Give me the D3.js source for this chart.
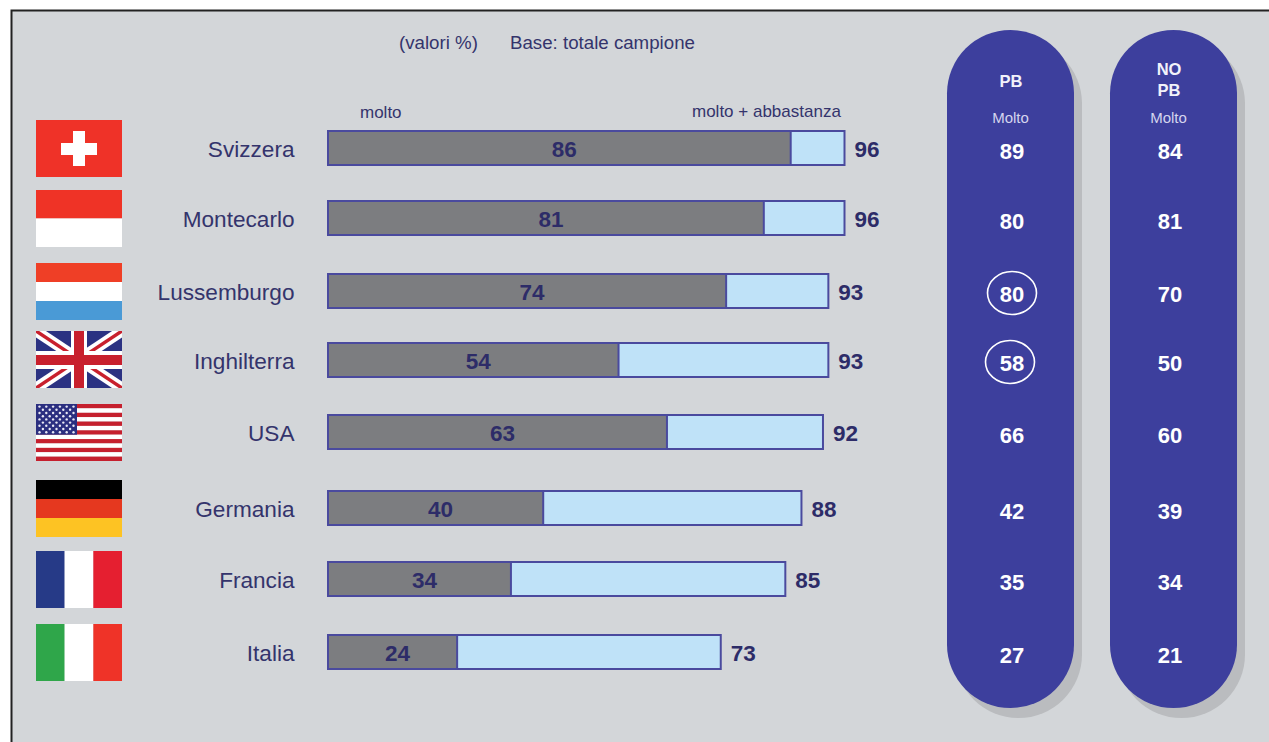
<!DOCTYPE html>
<html lang="it">
<head>
<meta charset="utf-8">
<title>Valori % per paese</title>
<script src="https://cdn.jsdelivr.net/npm/d3@7/dist/d3.min.js"></script>
<style>
html,body{margin:0;padding:0;background:#fff;overflow:hidden}
svg{display:block}
text{font-family:"Liberation Sans",Arial,sans-serif}
</style>
</head>
<body>
<svg id="chart" width="1269" height="742"></svg>
<script>
// Survey values, one entry per country, top to bottom
const countries = ["Svizzera","Montecarlo","Lussemburgo","Inghilterra","USA","Germania","Francia","Italia"];
const molto = [86,81,74,54,63,40,34,24];
const moltoAbbastanza = [96,96,93,93,92,88,85,73];
const pbMolto = [89,80,80,58,66,42,35,27];
const noPbMolto = [84,81,70,50,60,39,34,21];
const circledPb = ["Lussemburgo","Inghilterra"];

// Rows are hand spaced, so the band positions are listed rather than computed
const rowCentres = [148,218,291,360,432,508,579,652];
const flagTops = [120,190,263,331,404,480,551,624];

const INK = "#34346c", BAR_EDGE = "#4a4a9e", PILL = "#3d3f9d";
const svg = d3.select("#chart");

svg.append("rect").attr("width",1269).attr("height",742).attr("fill","#fff");
svg.append("rect").attr("x",11.5).attr("y",10.5).attr("width",1270).attr("height",745)
  .attr("fill","#d3d6d9").attr("stroke","#222").attr("stroke-width",2);

const x = d3.scaleLinear().domain([0,96]).range([328,844.5]);
const y = d3.scaleOrdinal().domain(countries).range(rowCentres);
const flagY = d3.scaleOrdinal().domain(countries).range(flagTops);
const BAR_H = 34, FLAG_X = 36, FLAG_W = 86, FLAG_H = 57;

// Keeps the diagonal strokes of the Union Jack inside the flag
svg.append("defs").append("clipPath").attr("id","flag-clip")
  .append("rect").attr("width",FLAG_W).attr("height",FLAG_H);

// Header texts
const header = (t,px,py,size,anchor="start") => svg.append("text").attr("x",px).attr("y",py)
  .attr("font-size",size).attr("fill",INK).attr("text-anchor",anchor).text(t);
header("(valori %)",399,49,18.7);
header("Base: totale campione",510,49,18.7);
header("molto",360,117.5,17);
header("molto + abbastanza",692,116.5,17);

// Bars: pale total behind, grey "molto" portion in front
const rows = svg.append("g").selectAll("g").data(countries).join("g");
rows.append("rect").attr("x",x(0)).attr("y",d=>y(d)-BAR_H/2)
  .attr("width",(d,i)=>x(moltoAbbastanza[i])-x(0)).attr("height",BAR_H)
  .attr("fill","#bfe2f8").attr("stroke",BAR_EDGE).attr("stroke-width",2);
rows.append("rect").attr("x",x(0)).attr("y",d=>y(d)-BAR_H/2)
  .attr("width",(d,i)=>x(molto[i])-x(0)).attr("height",BAR_H)
  .attr("fill","#7c7d80").attr("stroke",BAR_EDGE).attr("stroke-width",2);
rows.append("text").attr("x",(d,i)=>x(molto[i]/2)+5).attr("y",d=>y(d)+9)
  .attr("text-anchor","middle").attr("font-size",22.5).attr("font-weight","bold")
  .attr("fill","#2d2c68").text((d,i)=>molto[i]);
rows.append("text").attr("x",(d,i)=>x(moltoAbbastanza[i])+10).attr("y",d=>y(d)+9)
  .attr("font-size",22.5).attr("font-weight","bold").attr("fill","#2d2c68")
  .text((d,i)=>moltoAbbastanza[i]);
rows.append("text").attr("x",294.5).attr("y",d=>y(d)+9).attr("text-anchor","end")
  .attr("font-size",22.6).attr("fill",INK).text(d=>d);

// Flags
const stripes = (g,cols,dir) => cols.forEach((c,i)=>{
  const n = cols.length;
  g.append("rect")
    .attr("x",dir==="v"?FLAG_W*i/n:0).attr("y",dir==="h"?FLAG_H*i/n:0)
    .attr("width",dir==="v"?FLAG_W/n:FLAG_W).attr("height",dir==="h"?FLAG_H/n:FLAG_H)
    .attr("fill",c);
});
const flagPainters = {
  Svizzera(g){
    stripes(g,["#ef3228"],"h");
    g.append("rect").attr("x",25).attr("y",23).attr("width",36).attr("height",12).attr("fill","#fff");
    g.append("rect").attr("x",37).attr("y",11).attr("width",12).attr("height",35).attr("fill","#fff");
  },
  Montecarlo(g){ stripes(g,["#ef3326","#fff"],"h"); },
  Lussemburgo(g){ stripes(g,["#ef3f26","#fff","#4a9ad6"],"h"); },
  Inghilterra(g){
    stripes(g,["#2b3282"],"h");
    const diag = (w,c) => [[0,0,FLAG_W,FLAG_H],[FLAG_W,0,0,FLAG_H]].forEach(l =>
      g.append("line").attr("x1",l[0]).attr("y1",l[1]).attr("x2",l[2]).attr("y2",l[3])
        .attr("stroke",c).attr("stroke-width",w));
    diag(11,"#fff"); diag(3.5,"#c8202d");
    g.append("rect").attr("x",35).attr("width",16).attr("height",FLAG_H).attr("fill","#fff");
    g.append("rect").attr("y",20).attr("width",FLAG_W).attr("height",18).attr("fill","#fff");
    g.append("rect").attr("x",38).attr("width",10).attr("height",FLAG_H).attr("fill","#c8202d");
    g.append("rect").attr("y",24).attr("width",FLAG_W).attr("height",10).attr("fill","#c8202d");
  },
  USA(g){
    stripes(g,d3.range(13).map(i=>i%2?"#fff":"#c5202e"),"h");
    g.append("rect").attr("width",41).attr("height",30.7).attr("fill","#2b2f80");
    for(let r=0;r<9;r++){
      const n = r%2?5:6;
      for(let c=0;c<n;c++){
        g.append("circle").attr("cx",3.5+(r%2?3.4:0)+c*6.8).attr("cy",2.6+r*3.2)
          .attr("r",1.2).attr("fill","#e8e8f4");
      }
    }
  },
  Germania(g){ stripes(g,["#000","#e5381f","#fdc323"],"h"); },
  Francia(g){ stripes(g,["#263a87","#fff","#e51f30"],"v"); },
  Italia(g){ stripes(g,["#2fa64a","#fff","#ef3328"],"v"); }
};
svg.append("g").selectAll("g").data(countries).join("g")
  .attr("transform",d=>`translate(${FLAG_X},${flagY(d)})`)
  .attr("clip-path","url(#flag-clip)")
  .each(function(d){ flagPainters[d](d3.select(this)); });

// Side pills with the "molto" value for each group
const pills = [
  {left:947,centre:1012,values:pbMolto,title:["PB"],titleY:[87]},
  {left:1110,centre:1170,values:noPbMolto,title:["NO","PB"],titleY:[75,96]}
];
const PILL_W = 127, PILL_TOP = 30, PILL_H = 678;
pills.forEach(p=>{
  const g = svg.append("g");
  g.append("rect").attr("x",p.left+8).attr("y",PILL_TOP+10).attr("width",PILL_W).attr("height",PILL_H)
    .attr("rx",PILL_W/2).attr("fill","#babcbf");
  g.append("rect").attr("x",p.left).attr("y",PILL_TOP).attr("width",PILL_W).attr("height",PILL_H)
    .attr("rx",PILL_W/2).attr("fill",PILL);
  p.title.forEach((t,i)=>g.append("text").attr("x",p.centre-1).attr("y",p.titleY[i])
    .attr("text-anchor","middle").attr("font-size",16.5).attr("font-weight","bold").attr("fill","#f2f2fa").text(t));
  g.append("text").attr("x",p.centre-1.5).attr("y",122.5).attr("text-anchor","middle")
    .attr("font-size",15).attr("fill","#d5d5ee").text("Molto");
  g.selectAll("text.val").data(countries).join("text").attr("class","val")
    .attr("x",p.centre).attr("y",d=>y(d)+11).attr("text-anchor","middle")
    .attr("font-size",22).attr("font-weight","bold").attr("fill","#fff")
    .text((d,i)=>p.values[i]);
});

// Rings around the highlighted PB values
svg.append("g").selectAll("ellipse").data(circledPb).join("ellipse")
  .attr("cx",(d,i)=>i?1010:1012).attr("cy",d=>y(d)+2)
  .attr("rx",24.5).attr("ry",21.5).attr("fill","none").attr("stroke","#fff").attr("stroke-width",1.6);
</script>
</body>
</html>
